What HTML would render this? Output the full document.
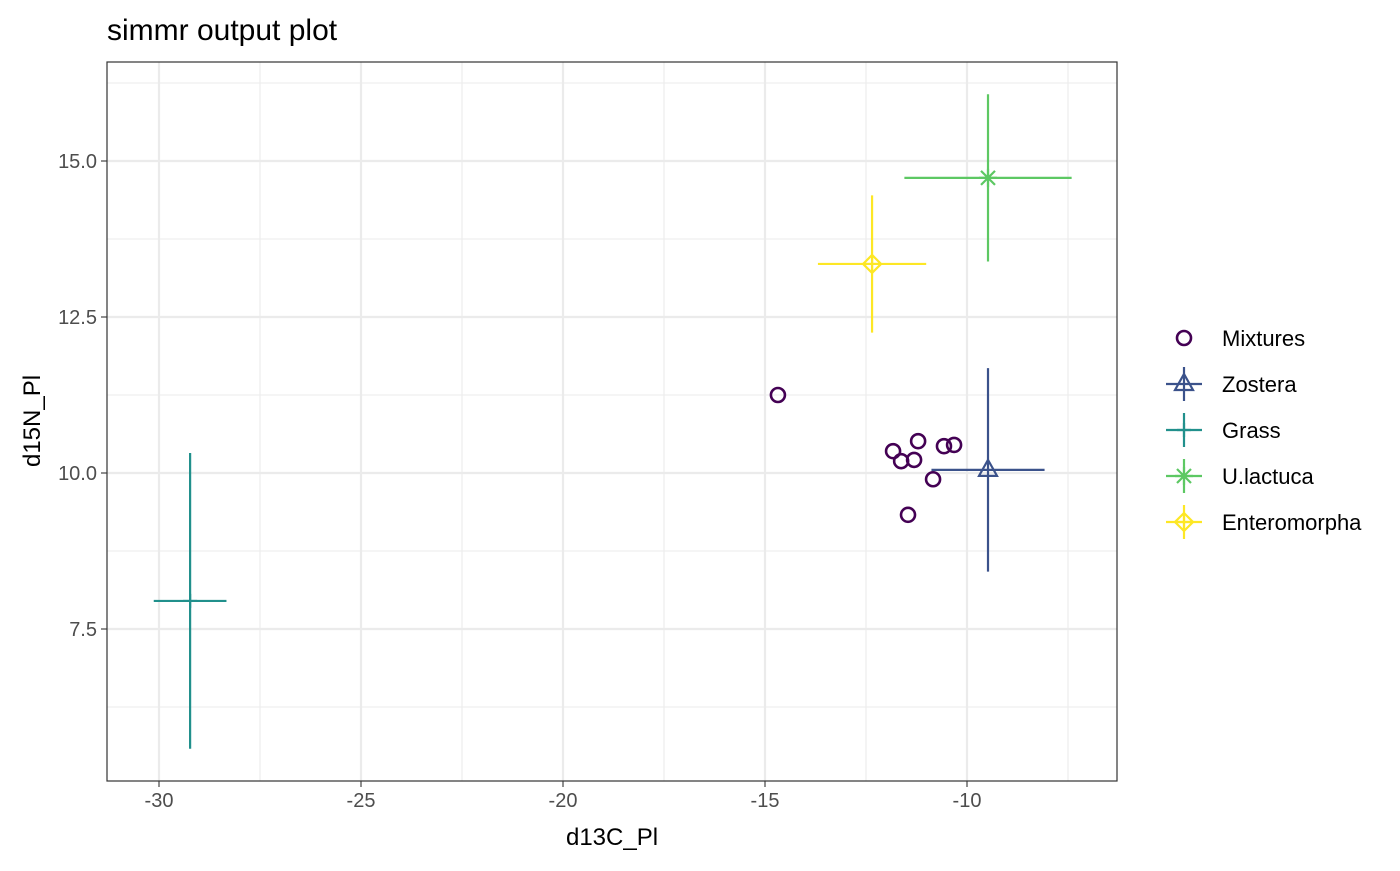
<!DOCTYPE html>
<html><head><meta charset="utf-8"><style>
body{margin:0;background:#fff;font-family:"Liberation Sans",sans-serif}
</style></head><body>
<svg id="chart" width="1400" height="866" xmlns="http://www.w3.org/2000/svg">
<text x="107" y="40" font-size="30" fill="#000">simmr output plot</text>
<g id="grid"></g>
<g id="marks"></g>
<rect x="107" y="62" width="1010" height="719" fill="none" stroke="#333" stroke-width="1.2"/>
<g id="axes"></g>
<text x="612" y="845" font-size="24" text-anchor="middle">d13C_Pl</text>
<text transform="translate(40,421) rotate(-90)" font-size="24" text-anchor="middle">d15N_Pl</text>
<g id="legend"></g>
</svg>
<script>
const xTicks=[-30,-25,-20,-15,-10];
const yTicks=[7.5,10.0,12.5,15.0];
const mixX=[-14.68,-11.83,-11.63,-11.21,-11.31,-10.84,-11.46,-10.57,-10.32];
const mixY=[11.25,10.35,10.19,10.51,10.21,9.90,9.33,10.43,10.45];
const srcNames=["Zostera","Grass","U.lactuca","Enteromorpha"];
const srcMeanX=[-9.48,-29.23,-9.48,-12.35];
const srcMeanY=[10.05,7.95,14.73,13.35];
const srcSdX=[1.4,0.9,2.07,1.34];
const srcSdY=[1.63,2.37,1.34,1.1];
const srcColors=["#3B528B","#21908C","#5DC863","#FDE725"];
const mixColor="#440154";
const X=v=>159+(v+30)*40.4;
const Y=v=>161+(15-v)*62.4;
const NS="http://www.w3.org/2000/svg";
function mk(p,t,a){const e=document.createElementNS(NS,t);for(const k in a)e.setAttribute(k,a[k]);p.appendChild(e);return e;}
const grid=document.getElementById('grid'),axes=document.getElementById('axes'),marks=document.getElementById('marks'),leg=document.getElementById('legend');
mk(grid,'rect',{x:107,y:62,width:1010,height:719,fill:'#fff'});
for(let i=0;i<xTicks.length;i++){
 const t=xTicks[i];
 const g=mk(grid,'line',{x1:X(t),x2:X(t),y1:62,y2:781,stroke:'#ebebeb','stroke-width':2.2});
 
 
 const m=t+2.5;
 const g2=mk(grid,'line',{x1:X(m),x2:X(m),y1:62,y2:781,stroke:'#ebebeb','stroke-width':1.1});
 
 
 mk(axes,'line',{x1:X(t),x2:X(t),y1:781,y2:787,stroke:'#333','stroke-width':1.1});
 const tx=mk(axes,'text',{x:X(t),y:807,'font-size':20,fill:'#4d4d4d','text-anchor':'middle'});
 tx.textContent=String(t);
 
 
}
for(let i=0;i<yTicks.length;i++){
 const t=yTicks[i];
 const g=mk(grid,'line',{x1:107,x2:1117,y1:Y(t),y2:Y(t),stroke:'#ebebeb','stroke-width':2.2});
 
 
 for(const m of [t-1.25,t+1.25]){
  if(Y(m)>62&&Y(m)<781){
   const g2=mk(grid,'line',{x1:107,x2:1117,y1:Y(m),y2:Y(m),stroke:'#ebebeb','stroke-width':1.1});
   
   
  }
 }
 mk(axes,'line',{x1:101,x2:107,y1:Y(t),y2:Y(t),stroke:'#333','stroke-width':1.1});
 const tx=mk(axes,'text',{x:97,y:Y(t)+7,'font-size':20,fill:'#4d4d4d','text-anchor':'end'});
 tx.textContent=t.toFixed(1);
 
 
}
function shape(p,i,cx,cy,col){
 if(i===0){mk(p,'path',{d:`M${cx},${cy-10}L${cx+9},${cy+6}L${cx-9},${cy+6}Z`,fill:'none',stroke:col,'stroke-width':2.2});}
 else if(i===1){mk(p,'path',{d:`M${cx-7},${cy}H${cx+7}M${cx},${cy-7}V${cy+7}`,stroke:col,'stroke-width':2.2});}
 else if(i===2){mk(p,'path',{d:`M${cx-7},${cy-7}L${cx+7},${cy+7}M${cx-7},${cy+7}L${cx+7},${cy-7}M${cx-9},${cy}H${cx+9}M${cx},${cy-9}V${cy+9}`,stroke:col,'stroke-width':2.2});}
 else {mk(p,'path',{d:`M${cx},${cy-9}L${cx+9},${cy}L${cx},${cy+9}L${cx-9},${cy}Z M${cx-9},${cy}H${cx+9}M${cx},${cy-9}V${cy+9}`,fill:'none',stroke:col,'stroke-width':2.2});}
}
for(let i=0;i<srcNames.length;i++){
 const g=mk(marks,'g',{});
 
 
 const cx=X(srcMeanX[i]),cy=Y(srcMeanY[i]),c=srcColors[i];
 mk(g,'line',{x1:X(srcMeanX[i]-srcSdX[i]),x2:X(srcMeanX[i]+srcSdX[i]),y1:cy,y2:cy,stroke:c,'stroke-width':2.2});
 mk(g,'line',{x1:cx,x2:cx,y1:Y(srcMeanY[i]-srcSdY[i]),y2:Y(srcMeanY[i]+srcSdY[i]),stroke:c,'stroke-width':2.2});
 shape(g,i,cx,cy,c);
}
for(let i=0;i<mixX.length;i++){
 const c=mk(marks,'circle',{cx:X(mixX[i]),cy:Y(mixY[i]),r:7,fill:'none',stroke:mixColor,'stroke-width':2.6});
 
 
}
const ly0=338,ld=46;
const le=mk(leg,'g',{});


mk(le,'circle',{cx:1184,cy:ly0,r:7,fill:'none',stroke:mixColor,'stroke-width':2.6});
const lt=mk(le,'text',{x:1222,y:ly0+8,'font-size':22});lt.textContent='Mixtures';
for(let i=0;i<srcNames.length;i++){
 const y=ly0+ld*(i+1),c=srcColors[i];
 const g=mk(leg,'g',{});
 
 
 mk(g,'line',{x1:1166,x2:1202,y1:y,y2:y,stroke:c,'stroke-width':2.2});
 mk(g,'line',{x1:1184,x2:1184,y1:y-17,y2:y+17,stroke:c,'stroke-width':2.2});
 shape(g,i,1184,y,c);
 const t=mk(g,'text',{x:1222,y:y+8,'font-size':22});t.textContent=srcNames[i];
}
</script>
</body></html>
